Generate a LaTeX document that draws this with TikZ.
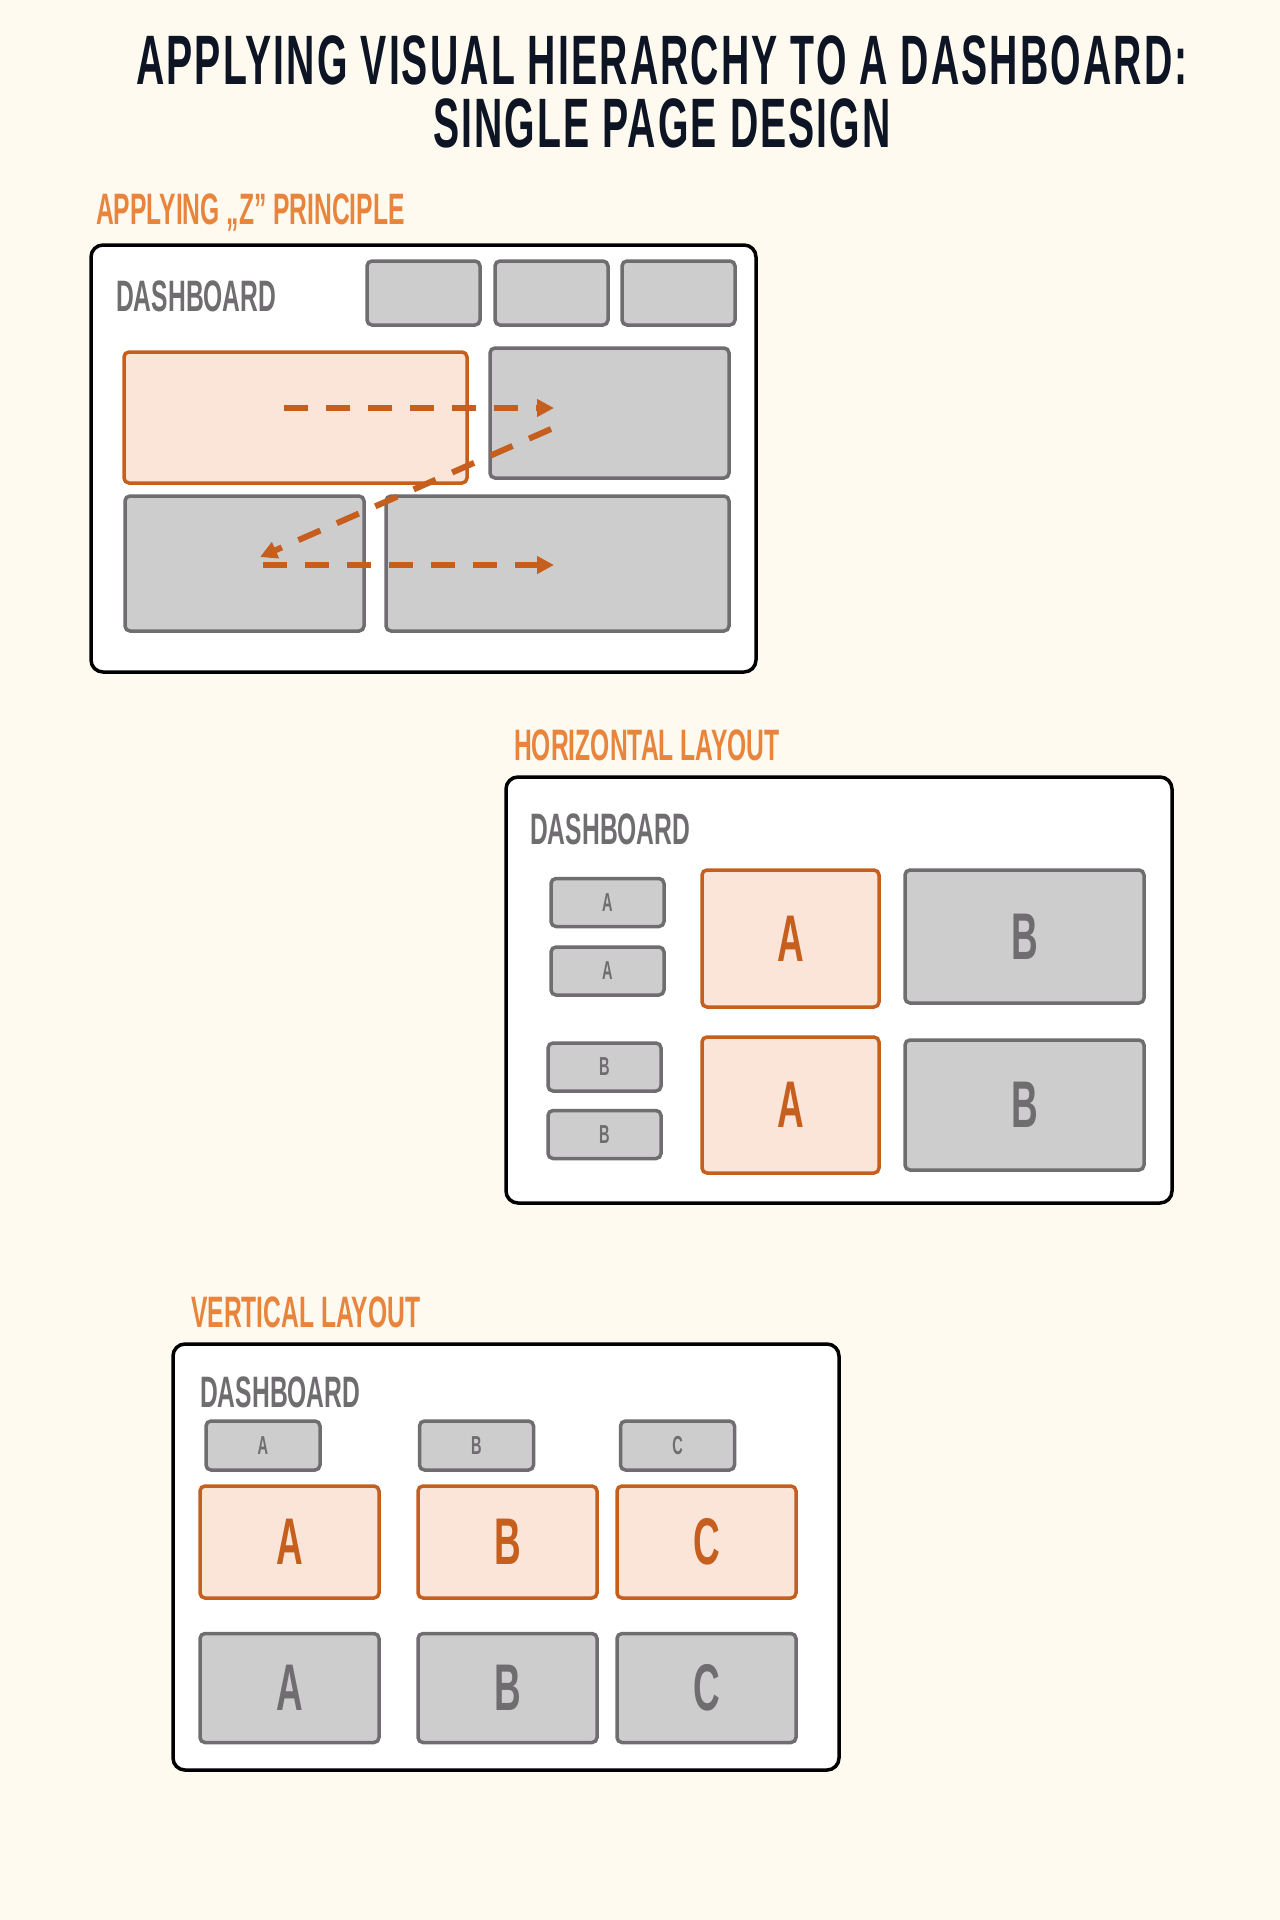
\documentclass[tikz,border=0pt]{standalone}
\usepackage{fontspec}
\newfontfamily\condfont{Liberation Sans}[FakeStretch=0.56]
\newfontfamily\titlefont{Liberation Sans}[FakeStretch=0.56,LetterSpace=3]
\usepackage{tikz}
\usetikzlibrary{arrows.meta,positioning}

\definecolor{bgcream}{HTML}{FEFAEF}
\definecolor{titlenavy}{HTML}{0D1424}
\definecolor{headorange}{HTML}{E8843C}
\definecolor{deeporange}{HTML}{C65F1D}
\definecolor{peach}{HTML}{FBE5D9}
\definecolor{tilegrey}{HTML}{CECDCE}
\definecolor{edgegrey}{HTML}{6F6D6F}

\begin{document}
\begin{tikzpicture}[x=1pt, y=-1pt,
  frame/.style={draw=black, line width=3.5pt, fill=white, rounded corners=12pt},
  tile/.style={draw=edgegrey, line width=3.5pt, fill=tilegrey, rounded corners=5pt,
    text=edgegrey, inner sep=0pt},
  hot/.style={draw=deeporange, line width=3.5pt, fill=peach, rounded corners=5pt,
    text=deeporange, inner sep=0pt},
  wh/.style 2 args={minimum width=#1pt, minimum height=#2pt},
  big/.style={font=\condfont\bfseries\fontsize{66}{66}\selectfont},
  small/.style={font=\condfont\bfseries\fontsize{26}{26}\selectfont},
  head/.style={anchor=base west, inner sep=0pt, text=headorange,
    font=\condfont\bfseries\fontsize{44}{44}\selectfont},
  boardname/.style={anchor=base west, inner sep=0pt, text=edgegrey,
    font=\condfont\bfseries\fontsize{44}{44}\selectfont},
  zarrow/.style={-{Triangle[length=17pt,width=17pt]}, draw=deeporange,
    line width=6pt, dash pattern=on 24pt off 18pt}]
  \fill[bgcream] (0,0) rectangle (1280,1920);
  \useasboundingbox (0,0) rectangle (1280,1920);

  \node[align=center, text=titlenavy, inner sep=0pt,
    font=\titlefont\bfseries\fontsize{70}{63}\selectfont] (title) at (662,92)
    {APPLYING VISUAL HIERARCHY TO A DASHBOARD:\\SINGLE PAGE DESIGN};

  % Z principle
  \node[head] (zhead) at (96,224) {APPLYING „Z” PRINCIPLE};
  \node[frame, wh={665}{427}] (zframe) at (423.5,458.5) {};
  \node[boardname] (zdash) at (116,311) {DASHBOARD};
  \foreach \i/\cx in {1/423.5, 2/551.5, 3/678.5}
    \node[tile, wh={113}{64}] (zs\i) at (\cx,293) {};
  \node[hot, wh={343}{131}] (za) at (295.5,417.5) {};
  \node[tile, wh={239}{130}] (zb) at (609.5,413) {};
  \node[tile, wh={239}{135}] (zc) at (244.5,563.5) {};
  \node[tile, wh={343}{135}] (zd) at (557.5,563.5) {};
  \coordinate (p1) at (284,408);
  \coordinate (p2) at (554,408);
  \coordinate (p3) at (551,429);
  \coordinate (p4) at (260,557);
  \coordinate (p5) at (263,565);
  \coordinate (p6) at (554,565);
  \draw[zarrow] (p1) -- (p2);
  \draw[zarrow] (p3) -- (p4);
  \draw[zarrow] (p5) -- (p6);

  % horizontal layout
  \node[head] (hhead) at (514,760) {HORIZONTAL LAYOUT};
  \node[frame, wh={666}{426}] (hframe) at (839,990) {};
  \node[boardname] (hdash) at (530,844) {DASHBOARD};
  \node[tile, small, wh={113}{48}] (hsa1) at (607.5,902.5) {A};
  \node[tile, small, wh={113}{48}] (hsa2) at (607.5,971) {A};
  \node[tile, small, wh={113}{48}] (hsb1) at (604.5,1067) {B};
  \node[tile, small, wh={113}{48}] (hsb2) at (604.5,1134.5) {B};
  \node[hot, big, wh={177}{137}] (hba1) at (790.5,938.5) {A};
  \node[hot, big, wh={177}{136}] (hba2) at (790.5,1105) {A};
  \node[tile, big, wh={239}{133}] (hbb1) at (1024.5,936.5) {B};
  \node[tile, big, wh={239}{130}] (hbb2) at (1024.5,1105) {B};

  % vertical layout
  \node[head] (vhead) at (191,1327) {VERTICAL LAYOUT};
  \node[frame, wh={666}{426}] (vframe) at (506,1557) {};
  \node[boardname] (vdash) at (200,1407) {DASHBOARD};
  \foreach \l/\cx/\sx in {A/289.5/263, B/507.5/476.5, C/706.5/677.5} {
    \node[tile, small, wh={114}{49}] (vs\l) at (\sx,1445.5) {\l};
    \node[hot, big, wh={179}{112}] (vh\l) at (\cx,1542) {\l};
    \node[tile, big, wh={179}{109}] (vt\l) at (\cx,1688) {\l};
  }
\end{tikzpicture}
\end{document}
